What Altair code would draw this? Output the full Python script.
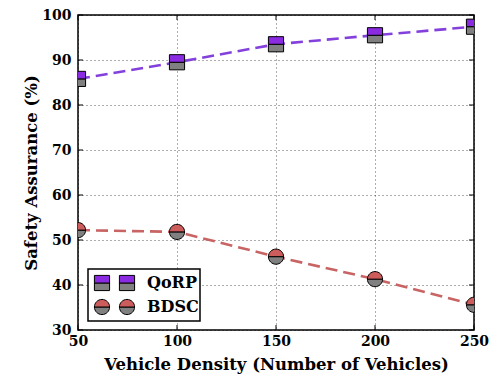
import altair as alt
import pandas as pd

vehicles = [50, 100, 150, 200, 250]
qorp = [85.8, 89.5, 93.5, 95.5, 97.4]
bdsc = [52.2, 51.8, 46.3, 41.3, 35.6]
series_names = ["QoRP", "BDSC"]
top_colors = ["#8A2BE2", "#CD5C5C"]
line_colors = ["#8440DC", "#C86464"]
x_ticks = [50, 100, 150, 200, 250]
y_ticks = [30, 40, 50, 60, 70, 80, 90, 100]

SQ_TOP = "M-1,-1L1,-1L1,0L-1,0Z"
SQ_BOT = "M-1,0L1,0L1,1L-1,1Z"
CI_TOP = "M-1,0A1,1 0 0 1 1,0Z"
CI_BOT = "M-1,0A1,1 0 0 0 1,0Z"
shapes = {"QoRP": (SQ_TOP, SQ_BOT), "BDSC": (CI_TOP, CI_BOT)}

FONT = "DejaVu Serif"
GRAY = "#808080"
MSIZE = 230
W, H = 396, 315

df = pd.DataFrame({
    "x": vehicles * 2,
    "y": qorp + bdsc,
    "series": ["QoRP"] * len(vehicles) + ["BDSC"] * len(vehicles),
})

x_scale = alt.Scale(domain=[50, 250], nice=False, zero=False)
y_scale = alt.Scale(domain=[30, 100], nice=False, zero=False)
x_enc = alt.X("x:Q", scale=x_scale,
              axis=alt.Axis(values=x_ticks, title="Vehicle Density (Number of Vehicles)",
                            labelPadding=4, titlePadding=8, format="d", labelFlush=False))
y_enc = alt.Y("y:Q", scale=y_scale,
              axis=alt.Axis(values=y_ticks, title="Safety Assurance (%)",
                            labelPadding=7, titlePadding=2, format="d", labelFlush=False))

base = alt.Chart(df)
layers = []

for name, tc, lc in zip(series_names, top_colors, line_colors):
    sub = base.transform_filter(alt.datum.series == name)
    layers.append(sub.mark_line(color=lc, strokeWidth=2.6, strokeDash=[12, 6], clip=True)
                  .encode(x=x_enc, y=y_enc))

# inward ticks on all four sides
xt = alt.Chart(pd.DataFrame({"x": x_ticks}))
yt = alt.Chart(pd.DataFrame({"y": y_ticks}))
layers.append(xt.mark_rule(color="black", strokeWidth=1).encode(
    x=x_enc, y=alt.value(H), y2=alt.value(H - 5)))
layers.append(xt.mark_rule(color="black", strokeWidth=1).encode(
    x=x_enc, y=alt.value(0), y2=alt.value(5)))
layers.append(yt.mark_rule(color="black", strokeWidth=1).encode(
    y=y_enc, x=alt.value(0), x2=alt.value(5)))
layers.append(yt.mark_rule(color="black", strokeWidth=1).encode(
    y=y_enc, x=alt.value(W), x2=alt.value(W - 5)))

for name, tc, lc in zip(series_names, top_colors, line_colors):
    sub = base.transform_filter(alt.datum.series == name)
    top, bot = shapes[name]
    layers.append(sub.mark_point(shape=bot, filled=True, fill=GRAY, stroke="black",
                                 strokeWidth=1, opacity=1, size=MSIZE, clip=True)
                  .encode(x=x_enc, y=y_enc))
    layers.append(sub.mark_point(shape=top, filled=True, fill=tc, stroke="black",
                                 strokeWidth=1, opacity=1, size=MSIZE, clip=True)
                  .encode(x=x_enc, y=y_enc))

# legend
leg_df = pd.DataFrame({"series": series_names})
leg = alt.Chart(leg_df)
layers.append(leg.transform_filter(alt.datum.series == series_names[0]).mark_rect(
    fill="white", stroke="black", strokeWidth=1.5).encode(
    x=alt.value(10), x2=alt.value(122), y=alt.value(254), y2=alt.value(306)))
row_y = [268, 292]
for name, tc, ry in zip(series_names, top_colors, row_y):
    sub = leg.transform_filter(alt.datum.series == name)
    top, bot = shapes[name]
    for mx in [24, 49]:
        layers.append(sub.mark_point(shape=bot, filled=True, fill=GRAY, stroke="black",
                                     strokeWidth=1, opacity=1, size=MSIZE)
                      .encode(x=alt.value(mx), y=alt.value(ry)))
        layers.append(sub.mark_point(shape=top, filled=True, fill=tc, stroke="black",
                                     strokeWidth=1, opacity=1, size=MSIZE)
                      .encode(x=alt.value(mx), y=alt.value(ry)))
    layers.append(sub.mark_text(font=FONT, fontWeight="bold", fontSize=16, align="left",
                                baseline="middle", color="black")
                  .encode(x=alt.value(69), y=alt.value(ry), text="series:N"))

chart = alt.layer(*layers).properties(
    width=W, height=H,
    autosize=alt.AutoSizeParams(type="none"),
    padding={"left": 70, "top": 7, "right": 15, "bottom": 45},
).configure_view(
    stroke="black", strokeWidth=1.5
).configure_axis(
    labelFont=FONT, labelFontWeight="bold", labelFontSize=14, labelColor="black",
    titleFont=FONT, titleFontWeight="bold", titleFontSize=16.5, titleColor="black",
    grid=True, gridColor="black", gridDash=[1, 3], gridWidth=0.8, gridOpacity=0.8,
    domain=False, ticks=False, tickSize=0,
)

chart.save("out.html", embed_options={"renderer": "svg", "actions": False})
